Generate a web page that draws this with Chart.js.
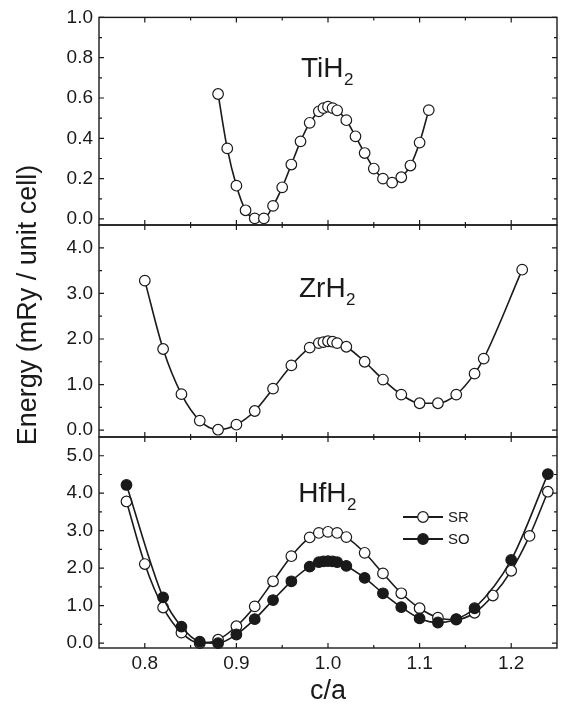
<!DOCTYPE html>
<html>
<head>
<meta charset="utf-8">
<script src="https://cdn.jsdelivr.net/npm/chart.js@4"></script>
<style>
  html, body { margin: 0; padding: 0; background: #fff; }
  #wrap { position: relative; width: 564px; height: 708px; }
  #wrap canvas { position: absolute; left: 0; top: 0; }
</style>
</head>
<body>
<div id="wrap">
  <canvas id="tiChart" width="564" height="708"></canvas>
  <canvas id="zrChart" width="564" height="708"></canvas>
  <canvas id="hfChart" width="564" height="708"></canvas>
</div>
<script>
// c/a values and energies (mRy / unit cell)
const tiX = [0.88, 0.89, 0.90, 0.91, 0.92, 0.93, 0.94, 0.95, 0.96, 0.97, 0.98, 0.99, 0.995, 1.00, 1.005, 1.01, 1.02, 1.03, 1.04, 1.05, 1.06, 1.07, 1.08, 1.09, 1.10, 1.11];
const tiE = [0.62, 0.35, 0.165, 0.043, 0.003, 0.003, 0.065, 0.157, 0.27, 0.385, 0.477, 0.534, 0.55, 0.557, 0.55, 0.539, 0.49, 0.41, 0.327, 0.25, 0.2, 0.18, 0.207, 0.265, 0.379, 0.54];

const zrX = [0.80, 0.82, 0.84, 0.86, 0.88, 0.90, 0.92, 0.94, 0.96, 0.98, 0.99, 0.995, 1.00, 1.005, 1.01, 1.02, 1.04, 1.06, 1.08, 1.10, 1.12, 1.14, 1.16, 1.17, 1.212];
const zrE = [3.28, 1.78, 0.79, 0.21, 0.01, 0.12, 0.42, 0.91, 1.42, 1.81, 1.91, 1.93, 1.95, 1.94, 1.91, 1.83, 1.50, 1.11, 0.78, 0.59, 0.59, 0.78, 1.24, 1.57, 3.52];

const hfSrX = [0.78, 0.80, 0.82, 0.84, 0.86, 0.88, 0.90, 0.92, 0.94, 0.96, 0.98, 0.99, 1.00, 1.01, 1.02, 1.04, 1.06, 1.08, 1.10, 1.12, 1.14, 1.16, 1.18, 1.20, 1.22, 1.24];
const hfSrE = [3.78, 2.11, 0.95, 0.28, 0.0, 0.09, 0.45, 0.98, 1.65, 2.32, 2.82, 2.94, 2.97, 2.94, 2.83, 2.41, 1.86, 1.33, 0.93, 0.68, 0.63, 0.81, 1.27, 1.93, 2.86, 4.04];

const hfSoX = [0.78, 0.82, 0.84, 0.86, 0.88, 0.90, 0.92, 0.94, 0.96, 0.98, 0.99, 0.995, 1.00, 1.005, 1.01, 1.02, 1.04, 1.06, 1.08, 1.10, 1.12, 1.14, 1.16, 1.20, 1.24];
const hfSoE = [4.22, 1.22, 0.44, 0.04, 0.0, 0.23, 0.64, 1.15, 1.65, 2.04, 2.16, 2.18, 2.19, 2.18, 2.16, 2.06, 1.74, 1.33, 0.96, 0.66, 0.55, 0.64, 0.93, 2.22, 4.51];

// tick values
const xTicks = [0.8, 0.9, 1.0, 1.1, 1.2];
const xMinor = [0.85, 0.95, 1.05, 1.15];
const tiTicks = [0.0, 0.2, 0.4, 0.6, 0.8, 1.0];
const tiMinor = [0.1, 0.3, 0.5, 0.7, 0.9];
const zrTicks = [0, 1, 2, 3, 4];
const zrMinor = [0.5, 1.5, 2.5, 3.5];
const hfTicks = [0, 1, 2, 3, 4, 5];
const hfMinor = [0.5, 1.5, 2.5, 3.5, 4.5];

const FONT = '"Liberation Sans", Arial, Helvetica, sans-serif';
const INK = '#1a1a1a';
Chart.defaults.font.family = FONT;
Chart.defaults.color = INK;

function toPoints(xs, ys) {
    return xs.map((x, i) => ({ x: x, y: ys[i] }));
}

function lineSet(label, xs, ys, fill) {
    return {
        label: label,
        data: toPoints(xs, ys),
        borderColor: INK,
        borderWidth: 1.6,
        pointRadius: 5.3,
        pointBorderWidth: 1.2,
        pointBorderColor: INK,
        pointBackgroundColor: fill,
        cubicInterpolationMode: 'monotone',
        clip: false
    };
}

// frame, inward ticks on all four sides, panel title with subscript
const panelDeco = {
    id: 'panelDeco',
    afterDraw(chart, args, o) {
        const { ctx, chartArea: a, scales: { x, y } } = chart;
        ctx.save();
        ctx.strokeStyle = INK;
        ctx.lineWidth = 1.4;
        ctx.strokeRect(a.left, a.top, a.right - a.left, a.bottom - a.top);

        ctx.beginPath();
        const xTick = (v, len) => {
            const px = x.getPixelForValue(v);
            ctx.moveTo(px, a.bottom); ctx.lineTo(px, a.bottom - len);
            ctx.moveTo(px, a.top); ctx.lineTo(px, a.top + len);
        };
        const yTick = (v, len) => {
            const py = y.getPixelForValue(v);
            ctx.moveTo(a.left, py); ctx.lineTo(a.left + len, py);
            ctx.moveTo(a.right, py); ctx.lineTo(a.right - len, py);
        };
        xTicks.forEach(v => xTick(v, 5));
        xMinor.forEach(v => xTick(v, 3));
        o.yMajor.forEach(v => yTick(v, 5));
        o.yMinor.forEach(v => yTick(v, 3));
        ctx.lineWidth = 1.2;
        ctx.stroke();

        // title like TiH2 with a lowered subscript
        ctx.fillStyle = INK;
        ctx.textBaseline = 'alphabetic';
        ctx.textAlign = 'left';
        ctx.font = '28px ' + FONT;
        const w1 = ctx.measureText(o.title).width;
        ctx.font = '17px ' + FONT;
        const w2 = ctx.measureText(o.sub).width;
        const x0 = (a.left + a.right) / 2 - (w1 + w2) / 2 - 1;
        const base = a.top + o.titleOffset;
        ctx.font = '28px ' + FONT;
        ctx.fillText(o.title, x0, base);
        ctx.font = '17px ' + FONT;
        ctx.fillText(o.sub, x0 + w1 + 0.5, base + 8);
        ctx.restore();
    }
};

// legend of the bottom panel: line through a marker, then the label
const lineLegend = {
    id: 'lineLegend',
    afterDraw(chart, args, o) {
        if (!o.show) return;
        const { ctx, chartArea: a } = chart;
        ctx.save();
        ctx.font = '15px ' + FONT;
        ctx.textBaseline = 'middle';
        ctx.textAlign = 'left';
        o.order.forEach((di, row) => {
            const ds = chart.data.datasets[di];
            const left = a.left + o.x;
            const cy = a.top + o.y + row * o.dy;
            ctx.strokeStyle = INK;
            ctx.lineWidth = 1.8;
            ctx.beginPath();
            ctx.moveTo(left, cy); ctx.lineTo(left + 40, cy);
            ctx.stroke();
            ctx.beginPath();
            ctx.arc(left + 20, cy, 5.3, 0, Math.PI * 2);
            ctx.fillStyle = ds.pointBackgroundColor;
            ctx.fill();
            ctx.lineWidth = 1.2;
            ctx.stroke();
            ctx.fillStyle = INK;
            ctx.fillText(ds.label, left + 45, cy + 1);
        });
        ctx.restore();
    }
};

// shared y axis title spanning all panels
const yTitle = {
    id: 'yTitle',
    afterDraw(chart, args, o) {
        if (!o.text) return;
        const ctx = chart.ctx;
        ctx.save();
        ctx.translate(o.x, o.y);
        ctx.rotate(-Math.PI / 2);
        ctx.font = '27px ' + FONT;
        ctx.fillStyle = INK;
        ctx.textAlign = 'center';
        ctx.textBaseline = 'alphabetic';
        ctx.fillText(o.text, 0, 0);
        ctx.restore();
    }
};

function panelOptions(p) {
    const xScale = {
        type: 'linear',
        min: 0.75,
        max: 1.25,
        display: p.showX,
        afterBuildTicks: s => { s.ticks = xTicks.map(v => ({ value: v })); },
        grid: { display: false, drawTicks: false },
        border: { display: false },
        ticks: {
            padding: 4,
            font: { size: 19 },
            color: INK,
            callback: v => Number(v).toFixed(1)
        },
        title: {
            display: p.showX,
            text: 'c/a',
            font: { size: 27 },
            color: INK,
            padding: { top: 0, bottom: 0 }
        }
    };
    if (p.showX) {
        xScale.afterFit = s => { s.height = 708 - p.bottom; };
    }
    return {
        responsive: false,
        animation: false,
        events: [],
        layout: { padding: { top: p.top, bottom: p.showX ? 0 : 708 - p.bottom, left: 0, right: 7 } },
        plugins: {
            legend: { display: false },
            tooltip: { enabled: false },
            panelDeco: { title: p.title, sub: '2', titleOffset: p.titleOffset, yMajor: p.yTicks, yMinor: p.yMinor },
            lineLegend: { show: !!p.legend, x: 304, y: 80, dy: 22, order: [1, 0] },
            yTitle: { text: p.yTitle || '', x: 36, y: 305 }
        },
        scales: {
            x: xScale,
            y: {
                type: 'linear',
                min: p.yMin,
                max: p.yMax,
                afterBuildTicks: s => { s.ticks = p.yTicks.map(v => ({ value: v })); },
                afterFit: s => { s.width = 99; },
                grid: { display: false, drawTicks: false },
                border: { display: false },
                ticks: {
                    padding: 6,
                    font: { size: 19 },
                    color: INK,
                    callback: v => Number(v).toFixed(1)
                }
            }
        }
    };
}

const plugins = [panelDeco, lineLegend, yTitle];

new Chart(document.getElementById('tiChart'), {
    type: 'line',
    data: { datasets: [lineSet('TiH2', tiX, tiE, '#fff')] },
    options: panelOptions({ top: 14, bottom: 225, yMin: -0.03, yMax: 1.0, yTicks: tiTicks, yMinor: tiMinor, title: 'TiH', titleOffset: 60, showX: false }),
    plugins: plugins
});

new Chart(document.getElementById('zrChart'), {
    type: 'line',
    data: { datasets: [lineSet('ZrH2', zrX, zrE, '#fff')] },
    options: panelOptions({ top: 225, bottom: 437, yMin: -0.15, yMax: 4.5, yTicks: zrTicks, yMinor: zrMinor, title: 'ZrH', titleOffset: 72, showX: false, yTitle: 'Energy (mRy / unit cell)' }),
    plugins: plugins
});

// SO listed first so its filled markers sit on top
new Chart(document.getElementById('hfChart'), {
    type: 'line',
    data: { datasets: [lineSet('SO', hfSoX, hfSoE, INK), lineSet('SR', hfSrX, hfSrE, '#fff')] },
    options: panelOptions({ top: 437, bottom: 648, yMin: -0.13, yMax: 5.5, yTicks: hfTicks, yMinor: hfMinor, title: 'HfH', titleOffset: 65, showX: true, legend: true }),
    plugins: plugins
});
</script>
</body>
</html>
